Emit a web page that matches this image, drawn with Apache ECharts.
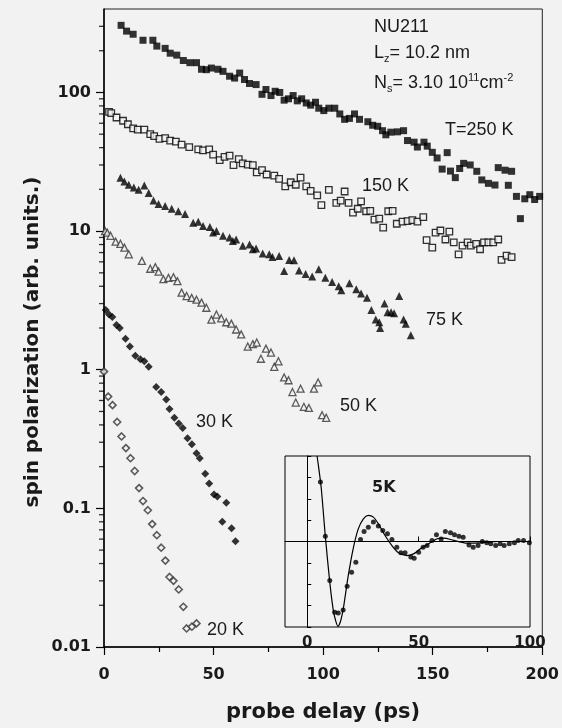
<!DOCTYPE html>
<html>
<head>
<meta charset="utf-8">
<script src="https://cdn.jsdelivr.net/npm/echarts@6/dist/echarts.min.js"></script>
<style>
html,body{margin:0;padding:0;background:#f2f2f2;}
#chart{width:562px;height:728px;}
</style>
</head>
<body>
<div id="chart"></div>
<script>
// ---- data (probe delay in ps, spin polarization in arb. units) ----
const t250 = [[7.8,305],[10.3,277],[13.3,263],[17.8,238],[22.3,238],[24.1,216],[27.9,208],[30.2,192],[33.2,186],[36.2,170],[39.2,164],[42.2,164],[44.5,147],[46.7,146],[49,150],[52,147],[54.3,142],[57.3,131],[59.6,127],[61.9,138],[64.1,124],[66.4,116],[69.4,114],[72.1,97],[73.9,105],[76.2,95],[78.1,102],[80.2,100],[82.2,88],[84.2,90],[86.3,95],[88.2,87],[90.2,90],[92.3,84],[94.3,81],[96.5,85],[98,77],[100.3,74],[102.6,77],[105.3,77],[107.6,70],[109.8,64],[112,65],[114.3,70],[116.6,64],[120.4,61.5],[122.6,58],[124.9,57],[127.1,53],[128.6,49.5],[130.9,51.7],[133.9,52],[136.7,53],[138.5,45],[141.5,43.8],[143,40.4],[146,43.8],[147.5,41],[149.8,37],[152,33.7],[154.3,28],[156.6,36.8],[158.1,27.1],[160.3,24.3],[162.3,28.3],[164.1,30.8],[167.1,30],[170.1,27],[172.4,23.4],[175.4,22.1],[178.4,21.5],[179.9,28.7],[183,27.5],[184.5,21.4],[186,27],[188.2,17.8],[190,12.3],[192,17.1],[194.3,18.3],[196.5,16.9],[198.8,17.8]];
const t150 = [[2.3,72.4],[3.3,71],[5.7,66],[8.7,62.5],[10.9,59],[13.3,55],[15.4,54],[18.4,54],[21.1,50],[22.9,48.4],[25.3,46.3],[27.9,46.8],[30.2,45],[32.8,44.2],[35.4,42],[38.9,40.4],[43,38.8],[45.2,38.2],[48,38.8],[49.8,35.6],[52.8,32.5],[55,34.3],[57.3,35],[59.1,29.9],[61.5,33],[63.3,30.8],[65.6,30.2],[67.9,29.9],[69.7,26.5],[72.1,27.5],[74.2,25.6],[77.7,25.1],[79.9,23.8],[82.7,21],[85.2,22.5],[87.5,21.6],[89.7,24.3],[92.3,21],[94.3,19.5],[97.3,18.1],[99.2,15.4],[102.6,19.8],[106,16],[108,16.6],[109.8,19.3],[111.6,16],[113.6,13.6],[115.8,14.5],[117.3,16.4],[119.6,13.9],[121.5,14],[123.4,12.1],[125.6,12.3],[127.4,10.6],[129.7,13.9],[131.7,14],[133.6,11.3],[136.2,11.7],[138.5,11.8],[140.7,12],[143,11.7],[145.7,12.6],[147.2,8.6],[149.8,7.6],[151.3,9.75],[153.5,10.1],[155.8,8.7],[157.6,9.9],[159.6,8.3],[161.8,6.8],[163.6,7.85],[165.9,8.3],[167.4,7.85],[169.8,8.1],[171.6,7.4],[173.4,8.3],[175.4,8.3],[177.6,8.3],[179.9,8.7],[181.4,6.2],[183.7,6.65],[186,6.5]];
const t75 = [[7.5,24.3],[9.3,22.8],[11.3,21.6],[13.6,20.6],[15.8,19.9],[18.4,21.3],[20.4,18.8],[22.6,16.6],[24.9,15.7],[27.9,15.2],[30.9,14.5],[33.9,13.9],[37,13.3],[40.7,11.5],[43,11.7],[45.2,10.9],[48.3,10.7],[49.8,9.75],[51.3,10],[54.3,9.25],[57.3,9.0],[58.8,8.5],[60.3,8.7],[63.3,7.85],[66.4,8.0],[67.9,7.4],[69.4,7.5],[72.4,6.9],[75.4,6.8],[76.9,6.5],[79.9,6.6],[82.2,5.15],[84.5,6.2],[86.7,6.15],[89,5.2],[92,4.9],[95,4.7],[98,5.3],[101,4.6],[104.1,4.3],[107.1,4.0],[108.3,3.75],[112,4.2],[115.1,3.8],[117.3,3.55],[120,3.3],[122,2.7],[124,2.3],[125.6,2.2],[126,2.0],[128,3.0],[129.4,2.6],[131,2.6],[132.4,2.55],[134.7,3.4],[136.7,2.3],[137.7,2.15],[140,1.77]];
const t50 = [[0.5,10],[1.5,9.75],[3,9.25],[5.3,8.4],[7.5,8.1],[9.3,7.6],[11.3,6.8],[17.3,6.1],[21.1,5.35],[23.4,5.5],[24.9,5.1],[27.1,4.5],[29.4,4.6],[31.7,4.65],[33.5,4.35],[35.4,3.6],[37.7,3.4],[40,3.3],[42.2,3.2],[44.5,3.05],[46.7,2.8],[49,2.3],[51.3,2.5],[53.5,2.35],[55.8,2.2],[58.1,2.15],[60.3,1.95],[62.6,1.8],[65.6,1.47],[67.9,1.53],[69.7,1.57],[71.6,1.2],[73.9,1.42],[76.2,1.33],[77.7,1.05],[79.6,1.15],[82.2,0.88],[84.2,0.84],[86,0.69],[87.5,0.58],[89.7,0.73],[91.2,0.54],[93.5,0.53],[95.8,0.73],[97.7,0.81],[99.5,0.47],[101.4,0.45]];
const t30 = [[0.8,2.7],[2.3,2.5],[3.8,2.4],[5.7,2.1],[7.2,2.0],[9.8,1.67],[11.8,1.47],[14.3,1.26],[16.6,1.19],[18.4,1.15],[20.4,1.05],[23.8,0.75],[26.1,0.69],[28.4,0.61],[29.9,0.52],[32.1,0.45],[34.1,0.41],[35.9,0.38],[38.1,0.32],[40.1,0.29],[42.2,0.25],[43.7,0.23],[46.2,0.178],[48,0.151],[50.2,0.126],[51.7,0.122],[54,0.08],[55.8,0.11],[58.2,0.072],[60,0.058]];
const t20 = [[0,0.97],[1.9,0.64],[3.9,0.555],[6,0.42],[8,0.33],[10,0.272],[12.1,0.23],[14,0.186],[16,0.14],[17.8,0.113],[20,0.097],[22,0.077],[24.1,0.064],[26.1,0.052],[28,0.042],[29.9,0.032],[31.7,0.03],[34.1,0.026],[36.2,0.0195],[37.7,0.0136],[40.1,0.014],[42.2,0.0148]];
// inset (5 K): measured points and fit curve
const t5 = [[5.9,2.78],[8.1,0.25],[10.1,-1.83],[12.3,-3.31],[13.9,-3.34],[16.1,-3.2],[17.9,-2.09],[19.9,-1.44],[21.8,-0.97],[23.9,0.09],[25.5,0.47],[27.4,0.67],[29.7,0.91],[31.9,0.72],[33.9,0.52],[36,0.36],[38,0.09],[40.2,-0.27],[42,-0.53],[43.9,-0.53],[46.5,-0.73],[48,-0.78],[50,-0.5],[52,-0.27],[53.8,-0.19],[56,0.05],[58,0.31],[60.1,0.12],[62,0.47],[64.3,0.41],[66.1,0.31],[68.1,0.25],[70,0.2],[72.6,-0.16],[74.5,-0.27],[76.7,-0.19],[78.6,0],[80.6,-0.06],[82.4,-0.11],[84.6,-0.19],[86.6,-0.11],[88.4,-0.19],[90.7,-0.11],[93,-0.06],[94.7,0.05],[97.1,0.05],[99.7,-0.06]];
const fit5 = [[4.4,4.0],[5.2,3.4],[6.3,2.47],[8.1,0.25],[10.1,-1.9],[11.6,-3.16],[12.6,-3.65],[13.8,-3.97],[14.8,-3.78],[15.6,-3.45],[16.4,-3.0],[18.4,-1.6],[20.6,-0.34],[22.9,0.59],[25.2,1.06],[27.4,1.22],[29.7,1.14],[31.9,0.83],[34.9,0.28],[38,-0.19],[41,-0.53],[44.7,-0.66],[47.7,-0.58],[50.8,-0.34],[54.5,-0.11],[58.3,0.13],[61.3,0.16],[65.8,0.05],[71.8,-0.08],[77.9,-0.06],[85.4,0],[99.7,0]];
const baseline5 = [[-10,0],[2.5,0]];
// axis ticks
const yMajor = [0.01,0.1,1,10,100];
const yMinor = [0.02,0.03,0.04,0.05,0.06,0.07,0.08,0.09,0.2,0.3,0.4,0.5,0.6,0.7,0.8,0.9,2,3,4,5,6,7,8,9,20,30,40,50,60,70,80,90,200,300];
const xInsetTicks = [0,50,100];

const TXT = '#1a1a1a';
const BOLD = 'DejaVu Sans';
const chart = echarts.init(document.getElementById('chart'), null, {renderer:'canvas'});

const open = (c) => ({color:'#f2f2f2', borderColor:c, borderWidth:1.3});

chart.setOption({
  backgroundColor:'#f2f2f2',
  animation:false,
  grid:[
    {left:104, top:9, width:442, height:646, show:true, borderColor:'#222', borderWidth:1, backgroundColor:'transparent'},
    {left:285, top:456, width:245, height:171, show:true, borderColor:'#000', borderWidth:1, backgroundColor:'#f2f2f2', z:5}
  ],
  xAxis:[
    {type:'value', gridIndex:0, min:0, max:200, interval:50,
     axisLine:{lineStyle:{color:'#000', width:1.5}},
     axisTick:{length:8, lineStyle:{color:'#000', width:1.2}},
     minorTick:{show:true, splitNumber:2, length:5, lineStyle:{color:'#000', width:1.2}},
     splitLine:{show:false},
     axisLabel:{color:TXT, fontFamily:BOLD, fontWeight:'bold', fontSize:16, margin:20},
     name:'probe delay (ps)', nameLocation:'middle', nameGap:55,
     nameTextStyle:{color:TXT, fontFamily:BOLD, fontWeight:'bold', fontSize:21}},
    {type:'value', gridIndex:1, min:-10, max:100, z:6,
     axisLine:{lineStyle:{color:'#000', width:1}},
     axisTick:{inside:true, length:5, customValues:xInsetTicks, lineStyle:{color:'#000'}},
     splitLine:{show:false},
     axisLabel:{customValues:xInsetTicks, color:TXT, fontFamily:BOLD, fontWeight:'bold', fontSize:15, margin:9}}
  ],
  yAxis:[
    {type:'log', gridIndex:0, min:0.01, max:400, position:'left',
     axisLine:{show:true, lineStyle:{color:'#000', width:1.5}},
     axisTick:{show:true, length:8, customValues:yMajor, lineStyle:{color:'#000', width:1.2}},
     splitLine:{show:false},
     axisLabel:{customValues:yMajor, color:TXT, fontFamily:BOLD, fontWeight:'bold', fontSize:16, margin:13,
       formatter:(v)=>String(+(+v).toPrecision(3))}},
    {type:'value', gridIndex:1, min:-4, max:4, interval:1, z:6,
     axisLine:{lineStyle:{color:'#000', width:1}},
     axisTick:{inside:true, length:4, lineStyle:{color:'#000'}},
     splitLine:{show:false},
     axisLabel:{show:false}}
  ],
  series:[
    // minor log ticks on the left axis, placed through the axis scale
    {type:'scatter', xAxisIndex:0, yAxisIndex:0, clip:false, silent:true, z:20,
     data:yMinor.map(v => [0, v]),
     symbol:'rect', symbolSize:[5, 1.3], symbolOffset:[-2.5, 0],
     itemStyle:{color:'#000'}},
    {type:'scatter', xAxisIndex:0, yAxisIndex:0, data:t250, symbol:'rect', symbolSize:7, itemStyle:{color:'#000'}},
    {type:'scatter', xAxisIndex:0, yAxisIndex:0, data:t150, symbol:'rect', symbolSize:6.5, itemStyle:open('#000')},
    {type:'scatter', xAxisIndex:0, yAxisIndex:0, data:t75, symbol:'triangle', symbolSize:8, itemStyle:{color:'#000'}},
    {type:'scatter', xAxisIndex:0, yAxisIndex:0, data:t50, symbol:'triangle', symbolSize:7, itemStyle:open('#333')},
    {type:'scatter', xAxisIndex:0, yAxisIndex:0, data:t30, symbol:'diamond', symbolSize:8, itemStyle:{color:'#000'}},
    {type:'scatter', xAxisIndex:0, yAxisIndex:0, data:t20, symbol:'diamond', symbolSize:7, itemStyle:{color:'#f2f2f2', borderColor:'#333', borderWidth:1.6}},
    {type:'line', xAxisIndex:1, yAxisIndex:1, data:baseline5, symbol:'none', lineStyle:{color:'#000', width:1}, z:7},
    {type:'line', xAxisIndex:1, yAxisIndex:1, data:fit5, symbol:'none', smooth:0.3, clip:true, lineStyle:{color:'#000', width:1.2}, z:7},
    {type:'scatter', xAxisIndex:1, yAxisIndex:1, data:t5, symbol:'circle', symbolSize:5, itemStyle:{color:'#000'}, z:8}
  ],
  graphic:[
    {type:'text', x:33, y:342, rotation:Math.PI/2, z:10, style:{text:'spin polarization (arb. units.)', font:'bold 20px "DejaVu Sans"', fill:TXT, align:'center', verticalAlign:'middle'}},
    {type:'text', x:374, y:27, z:10, style:{text:'NU211', font:'18px "Liberation Sans"', fill:TXT, verticalAlign:'middle'}},
    {type:'text', x:374, y:53, z:10, style:{text:'{a|L}{s|z}{a|= 10.2 nm}', verticalAlign:'middle', fill:TXT,
      rich:{a:{font:'18px "Liberation Sans"', fill:TXT, lineHeight:22}, s:{font:'11px "Liberation Sans"', fill:TXT, verticalAlign:'bottom', lineHeight:22, padding:[8,0,0,0]}}}},
    {type:'text', x:374, y:83, z:10, style:{text:'{a|N}{s|s}{a|= 3.10 10}{p|11}{a|cm}{p|-2}', verticalAlign:'middle', fill:TXT,
      rich:{a:{font:'18px "Liberation Sans"', fill:TXT, lineHeight:22}, s:{font:'11px "Liberation Sans"', fill:TXT, verticalAlign:'bottom', lineHeight:22, padding:[8,0,0,0]}, p:{font:'11px "Liberation Sans"', fill:TXT, verticalAlign:'top', lineHeight:22, padding:[0,0,8,0]}}}},
    {type:'text', x:445, y:130, z:10, style:{text:'T=250 K', font:'18px "Liberation Sans"', fill:TXT, verticalAlign:'middle'}},
    {type:'text', x:362, y:186, z:10, style:{text:'150 K', font:'18px "Liberation Sans"', fill:TXT, verticalAlign:'middle'}},
    {type:'text', x:426, y:320, z:10, style:{text:'75 K', font:'18px "Liberation Sans"', fill:TXT, verticalAlign:'middle'}},
    {type:'text', x:340, y:406, z:10, style:{text:'50 K', font:'18px "Liberation Sans"', fill:TXT, verticalAlign:'middle'}},
    {type:'text', x:196, y:422, z:10, style:{text:'30 K', font:'18px "Liberation Sans"', fill:TXT, verticalAlign:'middle'}},
    {type:'text', x:207, y:630, z:10, style:{text:'20 K', font:'18px "Liberation Sans"', fill:TXT, verticalAlign:'middle'}},
    {type:'text', x:372, y:488, z:10, style:{text:'5K', font:'bold 16px "DejaVu Sans"', fill:TXT, verticalAlign:'middle'}}
  ]
});
</script>
</body>
</html>
